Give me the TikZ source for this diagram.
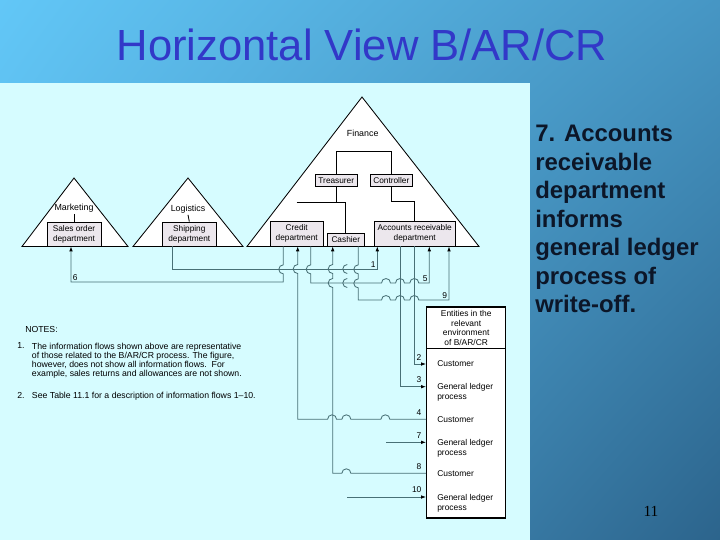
\documentclass[tikz,border=0pt]{standalone}
\usepackage{fontspec}
\setmainfont{Liberation Sans}
\newfontfamily\numfont{Liberation Serif}
\usetikzlibrary{arrows.meta, positioning, shadings}
\definecolor{panel}{RGB}{214,252,255}
\definecolor{skyA}{RGB}{98,199,247}
\definecolor{skyB}{RGB}{70,150,196}
\definecolor{skyC}{RGB}{84,172,220}
\definecolor{skyD}{RGB}{44,100,140}
\definecolor{titleblue}{RGB}{50,56,200}
\definecolor{boxgray}{RGB}{236,231,237}
\definecolor{flowline}{RGB}{72,112,118}
\definecolor{rtext}{RGB}{12,22,40}

\begin{document}
\begin{tikzpicture}[
    x=0.25mm, y=-0.25mm,
    >=Latex,
    dept/.style={
      draw, fill=boxgray, line width=0.5pt, inner sep=0pt,
      align=center, font=\fontsize{5.9}{7.1}\selectfont},
    tri/.style={draw, fill=white, line width=0.6pt},
    triline/.style={line width=1.3pt},
    head/.style={font=\fontsize{6.3}{7.5}\selectfont, inner sep=1pt},
    org/.style={draw=black, line width=0.6pt},
    flow/.style={draw=flowline, line width=0.6pt},
    arr/.style={flow, -{Latex[length=3.6pt, width=2.6pt, color=black]}},
    num/.style={font=\fontsize{6}{7}\selectfont, inner sep=1pt},
    entry/.style={
      font=\fontsize{6}{7.1}\selectfont, align=left,
      inner sep=0pt, anchor=north west},
    note/.style={font=\fontsize{6.2}{6.45}\selectfont, inner sep=0pt, align=left},
  ]

  % ── Slide background ──
  \shade[upper left=skyA, upper right=skyB, lower left=skyC, lower right=skyD]
    (0,0) rectangle (720,540);
  \fill[panel] (0,83) rectangle (530,540);
  \useasboundingbox (0,0) rectangle (720,540);

  \node[font=\fontsize{31}{36}\selectfont, text=titleblue, anchor=base, inner sep=0pt]
    (title) at (362,60) {Horizontal View B/AR/CR};

  \node[anchor=north west, inner sep=0pt, align=left, text=rtext,
        font=\fontsize{17}{20.3}\selectfont\bfseries]
    (caption) at (535,125)
    {7. Accounts\\receivable\\department\\informs\\general ledger\\process of\\write-off.};

  \node[font=\numfont\fontsize{11}{13}\selectfont, anchor=base, inner sep=0pt]
    (pgno) at (651,516) {11};

  % ── Functions (triangles) ──
  \draw[tri] (22,246.5) -- (74,178) -- (128,246.5) -- cycle;
  \draw[tri] (133,246.5) -- (188,178) -- (243,246.5) -- cycle;
  \draw[tri] (247,246.5) -- (362,97) -- (479,246.5) -- cycle;
  \draw[triline] (22,246.5) -- (128,246.5)
                 (133,246.5) -- (243,246.5)
                 (247,246.5) -- (479,246.5);

  \node[head] (mkt) at (74,208) {Marketing};
  \node[head] (log) at (188,209) {Logistics};
  \node[head] (fin) at (362.7,133) {Finance};

  % ── Departments ──
  \node[dept, minimum width=13.5mm, minimum height=6mm]
    (sales) at (74,234) {Sales order\\department};
  \node[dept, minimum width=13.3mm, minimum height=6mm]
    (ship) at (189.3,234) {Shipping\\department};
  \node[dept, minimum width=13.3mm, minimum height=6.25mm]
    (credit) at (296.7,233.5) {Credit\\department};
  \node[dept, minimum width=9.1mm, minimum height=3.2mm]
    (cash) at (345.8,239.6) {Cashier};
  \node[dept, minimum width=20.2mm, minimum height=6.25mm]
    (ar) at (414.7,233.5) {Accounts receivable\\department};
  \node[dept, minimum width=10.7mm, minimum height=2.9mm]
    (treas) at (336.3,180.2) {Treasurer};
  \node[dept, minimum width=10.7mm, minimum height=2.9mm]
    (contr) at (391.3,180.2) {Controller};

  \draw[org] (mkt.south) -- (sales.north);
  \draw[org] (log.south) -- (ship.north);
  \draw[org] (treas.north) -- ++(0,-23) -| (contr.north);
  \draw[org, line width=1.1pt] (treas.south) -- ++(0,16) coordinate (tj);
  \draw[org] (tj -| credit.north) -- (tj -| cash.north) -- (cash.north);
  \draw[org] (contr.south) -- ++(0,15) -| (ar.north);

  % ── Entities in the environment ──
  \node[draw, fill=white, line width=0.9pt, inner sep=0pt,
        minimum width=19.75mm, minimum height=52.75mm]
    (ent) at (466.2,412.5) {};
  \coordinate (hd) at (0,348);
  \draw[line width=0.6pt] (ent.west |- hd) -- (ent.east |- hd);
  \node[font=\fontsize{6}{6.7}\selectfont, align=center, inner sep=0pt]
    (enthead) at (466.2,328) {Entities in the\\relevant\\environment\\of B/AR/CR};

  \node[entry] (cust2) at (437,360.7) {Customer};
  \node[entry] (gl3)   at (437,383.4) {General ledger\\process};
  \node[entry] (cust4) at (437,416)   {Customer};
  \node[entry] (gl7)   at (437,439)   {General ledger\\process};
  \node[entry] (cust8) at (437,470)   {Customer};
  \node[entry] (gl10)  at (437,493.7) {General ledger\\process};

  % ── Flow end points and rows ──
  \path (sales.south)  ++(-3,0)     coordinate (f6b);
  \path (ship.south)   ++(-16.6,0)  coordinate (f1a);
  \path (credit.south) ++(-13.4,0)  coordinate (f6a)
                       ++(14.4,0)   coordinate (f4b)
                       ++(13,0)     coordinate (f5a);
  \path (cash.south)   ++(-13.1,0)  coordinate (f8b)
                       ++(14.6,0)   coordinate (f10a)
                       ++(11,0)     coordinate (f9a);
  \path (ar.south)     ++(-37.4,0)  coordinate (f1b)
                       ++(8.7,0)    coordinate (f7a)
                       ++(14,0)     coordinate (f3a)
                       ++(14.3,0)   coordinate (f2a)
                       ++(15,0)     coordinate (f5b)
                       ++(19.7,0)   coordinate (f9b);
  \coordinate (r1) at (0,269);
  \coordinate (r6) at (0,282);
  \coordinate (r5) at (0,283);
  \coordinate (r9) at (0,300);
  \coordinate (r2) at (0,364);
  \coordinate (r3) at (0,386.7);
  \coordinate (r4) at (0,419.3);
  \coordinate (r7) at (0,442.3);
  \coordinate (r8) at (0,473.3);
  \coordinate (r10) at (0,497);

  % ── Information flows ──
  \draw[arr] (f1a) |- (f1b |- r1) node[num, above left] (l1) {1} -- (f1b);

  \draw[arr] (f6a) -- ++(0,18.5) arc[start angle=270, end angle=90, radius=4.5]
    |- (f6b |- r6) node[num, above right] (l6) {6} -- (f6b);

  \draw[arr] (f5a) -- ++(0,18.5) arc[start angle=270, end angle=90, radius=4.5]
    -- (f5a |- r5) -- ++(70.8,0)
    arc[start angle=180, end angle=360, radius=4.5] -- ++(5,0)
    arc[start angle=180, end angle=360, radius=4.5] -- ++(5.3,0)
    arc[start angle=180, end angle=360, radius=4.5]
    -- (f5b |- r5) node[num, above left] (l5) {5} -- (f5b);

  \draw[arr] (f9a) -- ++(0,18.5) arc[start angle=270, end angle=90, radius=4.5]
    -- ++(0,5) arc[start angle=270, end angle=90, radius=4.5]
    -- (f9a |- r9) -- ++(23.2,0)
    arc[start angle=180, end angle=360, radius=4.5] -- ++(5,0)
    arc[start angle=180, end angle=360, radius=4.5] -- ++(5.3,0)
    arc[start angle=180, end angle=360, radius=4.5]
    -- (f9b |- r9) node[num, above left] (l9) {9} -- (f9b);

  \draw[flow] (f10a |- r1) ++(0,-4.5) arc[start angle=270, end angle=90, radius=4.5];
  \draw[flow] (f10a |- r5) ++(0,-4.5) arc[start angle=270, end angle=90, radius=4.5];

  \draw[arr] (f2a) |- (ent.west |- r2) node[num, above left=1.5pt and 2pt] (l2) {2};
  \draw[arr] (f3a) |- (ent.west |- r3) node[num, above left=1.5pt and 2pt] (l3) {3};

  \draw[arr] (ent.west |- r4) node[num, above left=1.5pt and 2pt] (l4) {4}
    -- ++(-36.2,0) arc[start angle=0, end angle=-180, radius=4.5]
    -- ++(-30,0) arc[start angle=0, end angle=-180, radius=4.5]
    -- ++(-5.3,0) arc[start angle=0, end angle=-180, radius=4.5]
    -- (f4b |- r4) -- ++(0,-145.8)
    arc[start angle=90, end angle=270, radius=4.5] -- (f4b);

  \draw[arr] (f7a |- r7) -- (ent.west |- r7) node[num, above left=1.5pt and 2pt] (l7) {7};

  \draw[arr] (ent.west |- r8) node[num, above left=1.5pt and 2pt] (l8) {8}
    -- ++(-75.2,0) arc[start angle=0, end angle=-180, radius=4.5]
    -- (f8b |- r8) -- ++(0,-185.8)
    arc[start angle=90, end angle=270, radius=4.5] -- ++(0,-5)
    arc[start angle=90, end angle=270, radius=4.5] -- (f8b);

  \draw[arr] (f10a |- r10) -- (ent.west |- r10) node[num, above left=1.5pt and 2pt] (l10) {10};

  % ── Notes ──
  \node[note, anchor=west] (notes) at (25,329) {NOTES:};
  \node[note, anchor=north west] (nt1no) at (17,342.7) {1.};
  \node[note, anchor=north west] (nt1) at (31.7,342.7)
    {The information flows shown above are representative\\
     of those related to the B/AR/CR process. The figure,\\
     however, does not show all information flows.~~For\\
     example, sales returns and allowances are not shown.};
  \node[note, anchor=north west] (nt2no) at (17,391.7) {2.};
  \node[note, anchor=north west] (nt2) at (31.7,391.7)
    {See Table 11.1 for a description of information flows 1--10.};

\end{tikzpicture}
\end{document}
